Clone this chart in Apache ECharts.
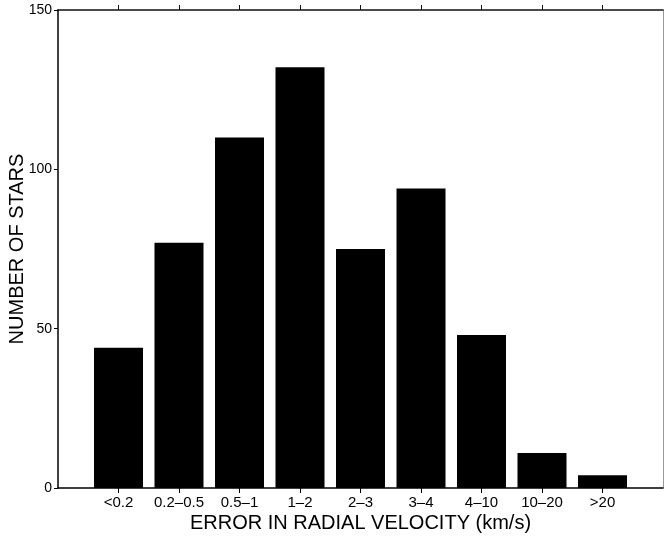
<!DOCTYPE html>
<html>
<head>
<meta charset="utf-8">
<script src="https://cdn.jsdelivr.net/npm/echarts@6/dist/echarts.min.js"></script>
<style>
  html, body { margin: 0; padding: 0; background: #fff; }
  #chart { width: 664px; height: 536px; }
</style>
</head>
<body>
<div id="chart"></div>
<script>
// Error bins in radial velocity (km/s) and number of stars per bin
var categories = ['<0.2', '0.2–0.5', '0.5–1', '1–2', '2–3', '3–4', '4–10', '10–20', '>20'];
var starCounts = [44, 77, 110, 132, 75, 94, 48, 11, 4];
var yTicks = [0, 50, 100, 150];

// Bins sit at positions 1..9 on a 0..10 axis
var positions = categories.map(function (c, i) { return i + 1; });
var barData = positions.map(function (p, i) { return [p, starCounts[i]]; });

var font = 'Liberation Sans, Arial, Helvetica, sans-serif';
var chart = echarts.init(document.getElementById('chart'), null, { renderer: 'canvas' });

chart.setOption({
  animation: false,
  backgroundColor: '#ffffff',
  grid: { left: 58, right: 1, top: 10, bottom: 48, containLabel: false, outerBoundsMode: 'none' },
  xAxis: [{
    type: 'value',
    position: 'bottom',
    min: 0,
    max: 10,
    name: 'ERROR IN RADIAL VELOCITY (km/s)',
    nameLocation: 'middle',
    nameGap: 25,
    nameMoveOverlap: false,
    nameTextStyle: { fontFamily: font, fontSize: 20, color: '#000' },
    axisLine: { show: true, onZero: false, lineStyle: { color: '#000', width: 1.5 } },
    axisTick: { show: true, customValues: positions, length: 5, inside: false, lineStyle: { color: '#000', width: 1 } },
    axisLabel: {
      customValues: positions,
      margin: 7,
      fontFamily: font, fontSize: 15, color: '#000',
      formatter: function (v) { return categories[Math.round(v) - 1] || ''; }
    },
    splitLine: { show: false }
  }, {
    type: 'value',
    position: 'top',
    min: 0,
    max: 10,
    axisLine: { show: true, onZero: false, lineStyle: { color: '#111', width: 1.5 } },
    axisTick: { show: true, customValues: positions, length: 5, inside: false, lineStyle: { color: '#111', width: 1 } },
    axisLabel: { show: false },
    splitLine: { show: false }
  }],
  yAxis: [{
    type: 'value',
    position: 'left',
    min: 0,
    max: 150,
    interval: 50,
    name: 'NUMBER OF STARS',
    nameLocation: 'middle',
    nameGap: 31,
    nameMoveOverlap: false,
    nameTextStyle: { fontFamily: font, fontSize: 20, color: '#000' },
    axisLine: { show: true, onZero: false, lineStyle: { color: '#000', width: 1.5 } },
    axisTick: { show: true, length: 4, inside: false, lineStyle: { color: '#000', width: 1 } },
    axisLabel: {
      margin: 6,
      fontFamily: font, fontSize: 14, color: '#000',
      formatter: function (v) { return yTicks.indexOf(v) >= 0 ? String(v) : ''; }
    },
    splitLine: { show: false }
  }, {
    type: 'value',
    position: 'right',
    min: 0,
    max: 150,
    axisLine: { show: true, onZero: false, lineStyle: { color: '#999', width: 1 } },
    axisTick: { show: false },
    axisLabel: { show: false },
    splitLine: { show: false }
  }],
  series: [{
    type: 'bar',
    xAxisIndex: 0,
    yAxisIndex: 0,
    data: barData,
    barWidth: 49,
    itemStyle: { color: '#000' },
    emphasis: { disabled: true }
  }]
});
</script>
</body>
</html>
